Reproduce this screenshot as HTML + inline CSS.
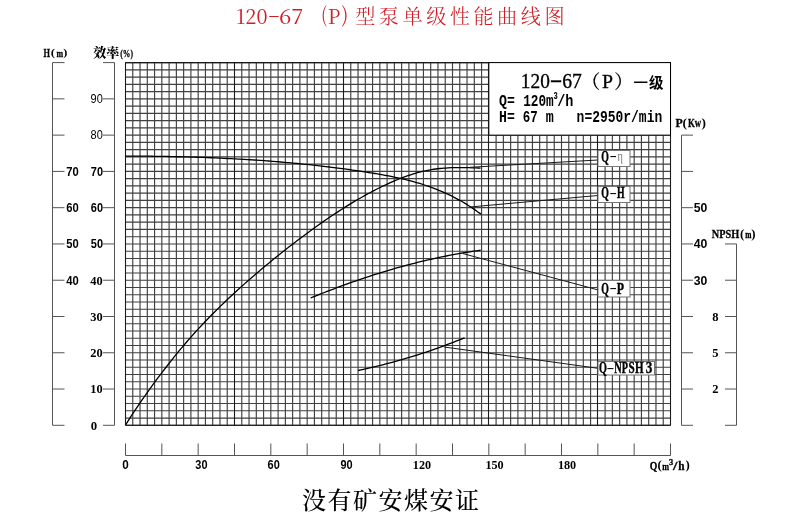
<!DOCTYPE html><html lang="zh-CN"><head><meta charset="utf-8"><title>120-67(P)型泵单级性能曲线图</title><style>
html,body{margin:0;padding:0;background:#fff;width:800px;height:523px;overflow:hidden}
svg{display:block}
</style></head><body>
<svg width="800" height="523" viewBox="0 0 800 523">
<rect width="800" height="523" fill="#fff"/>
<g fill="#d01c24">
<text y="23.8" font-size="20.5" style="font-family:'Noto Serif CJK SC',serif"><tspan x="236" textLength="31.5" lengthAdjust="spacingAndGlyphs">120</tspan><tspan x="267.8" y="22" textLength="12.5" lengthAdjust="spacingAndGlyphs">-</tspan><tspan x="279" y="23.8" textLength="24.5" lengthAdjust="spacingAndGlyphs">67</tspan></text>
<text y="22.2" font-size="21" style="font-family:'Noto Serif CJK SC',serif"><tspan x="321.2" textLength="5.6" lengthAdjust="spacingAndGlyphs">(</tspan><tspan x="327.8" y="23.8" textLength="12.6" lengthAdjust="spacingAndGlyphs">P</tspan><tspan x="341.4" y="22.2" textLength="6.8" lengthAdjust="spacingAndGlyphs">)</tspan></text>
<text x="355.2 378.85 402.5 426.15 449.8 473.45 497.1 520.75 544.4" y="23.5" font-size="20.2" style="font-family:'Liberation Serif','Noto Serif CJK SC',serif" font-weight="300">型泵单级性能曲线图</text>
</g>
<path d="M132.77,62.6V425.3M140.03,62.6V425.3M147.3,62.6V425.3M154.57,62.6V425.3M161.83,62.6V425.3M169.1,62.6V425.3M176.37,62.6V425.3M183.63,62.6V425.3M190.9,62.6V425.3M198.17,62.6V425.3M205.43,62.6V425.3M212.7,62.6V425.3M219.97,62.6V425.3M227.23,62.6V425.3M241.77,62.6V425.3M249.03,62.6V425.3M256.3,62.6V425.3M263.57,62.6V425.3M270.83,62.6V425.3M278.1,62.6V425.3M285.37,62.6V425.3M292.63,62.6V425.3M299.9,62.6V425.3M307.17,62.6V425.3M314.43,62.6V425.3M321.7,62.6V425.3M328.97,62.6V425.3M336.23,62.6V425.3M350.77,62.6V425.3M358.03,62.6V425.3M365.3,62.6V425.3M372.57,62.6V425.3M379.83,62.6V425.3M387.1,62.6V425.3M394.37,62.6V425.3M401.63,62.6V425.3M408.9,62.6V425.3M416.17,62.6V425.3M423.43,62.6V425.3M430.7,62.6V425.3M437.97,62.6V425.3M445.23,62.6V425.3M452.5,62.6V425.3M459.77,62.6V425.3M467.03,62.6V425.3M474.3,62.6V425.3M481.57,62.6V425.3M496.1,62.6V425.3M503.37,62.6V425.3M510.63,62.6V425.3M517.9,62.6V425.3M525.17,62.6V425.3M532.43,62.6V425.3M539.7,62.6V425.3M546.97,62.6V425.3M554.23,62.6V425.3M561.5,62.6V425.3M568.77,62.6V425.3M576.03,62.6V425.3M583.3,62.6V425.3M590.57,62.6V425.3M605.1,62.6V425.3M612.37,62.6V425.3M619.63,62.6V425.3M626.9,62.6V425.3M634.17,62.6V425.3M641.43,62.6V425.3M648.7,62.6V425.3M655.97,62.6V425.3M663.23,62.6V425.3M125.5,62.6H670.5M125.5,69.85H670.5M125.5,77.11H670.5M125.5,84.36H670.5M125.5,91.62H670.5M125.5,98.87H670.5M125.5,106.12H670.5M125.5,113.38H670.5M125.5,120.63H670.5M125.5,127.89H670.5M125.5,135.14H670.5M125.5,142.39H670.5M125.5,149.65H670.5M125.5,156.9H670.5M125.5,164.16H670.5M125.5,171.41H670.5M125.5,178.66H670.5M125.5,185.92H670.5M125.5,193.17H670.5M125.5,200.43H670.5M125.5,207.68H670.5M125.5,214.93H670.5M125.5,222.19H670.5M125.5,229.44H670.5M125.5,236.7H670.5M125.5,243.95H670.5M125.5,251.2H670.5M125.5,258.46H670.5M125.5,265.71H670.5M125.5,272.97H670.5M125.5,280.22H670.5M125.5,287.47H670.5M125.5,294.73H670.5M125.5,301.98H670.5M125.5,309.24H670.5M125.5,316.49H670.5M125.5,323.74H670.5M125.5,331H670.5M125.5,338.25H670.5M125.5,345.51H670.5M125.5,352.76H670.5M125.5,360.01H670.5M125.5,367.27H670.5M125.5,374.52H670.5M125.5,381.78H670.5M125.5,389.03H670.5M125.5,396.28H670.5M125.5,403.54H670.5M125.5,410.79H670.5M125.5,418.05H670.5M125.5,425.3H670.5" stroke="#404040" stroke-width="1.15" fill="none"/>
<path d="M125.5,62.3V425.6M234.5,62.3V425.6M343.5,62.3V425.6M488.5,62.3V425.6M597.5,62.3V425.6M670.5,62.3V425.6M125.5,62.6H670.5M125.5,425.3H670.5" stroke="#1a1a1a" stroke-width="1.1" fill="none"/>
<rect x="488.83" y="62.6" width="181.67" height="72.54" fill="#fff" stroke="#000" stroke-width="1"/>
<g fill="#000">
<text y="87.6" font-size="21" style="font-family:'Liberation Serif','Noto Serif CJK SC',serif" stroke="#000" stroke-width="0.35"><tspan x="520.8" textLength="29" lengthAdjust="spacingAndGlyphs">120</tspan><tspan x="549.8" y="85.6" textLength="12.6" lengthAdjust="spacingAndGlyphs">-</tspan><tspan x="562.2" y="87.6" textLength="19.6" lengthAdjust="spacingAndGlyphs">67</tspan></text>
<text x="581.2" y="89" font-size="19" style="font-family:'Liberation Serif','Noto Serif CJK SC',serif" stroke="#000" stroke-width="0.2">（</text>
<text x="602" y="87.8" font-size="19.8" style="font-family:'Liberation Serif','Noto Serif CJK SC',serif" stroke="#000" stroke-width="0.3">P</text>
<text x="614.3" y="89" font-size="19" style="font-family:'Liberation Serif','Noto Serif CJK SC',serif" stroke="#000" stroke-width="0.2">）</text>
<text x="633.5 649" y="88.3" font-size="14.5" style="font-family:'Liberation Sans','Noto Sans CJK SC',sans-serif"><tspan font-weight="500">一</tspan><tspan font-weight="bold">级</tspan></text>
<text x="499" y="105.7" font-size="15.8" style="font-family:'Liberation Mono','Noto Sans CJK SC',monospace" textLength="15.8" lengthAdjust="spacingAndGlyphs" font-weight="bold">Q=</text>
<text x="523.2" y="105.7" font-size="15.8" style="font-family:'Liberation Mono','Noto Sans CJK SC',monospace" textLength="30.5" lengthAdjust="spacingAndGlyphs" font-weight="bold">120m</text>
<text x="553.6" y="98.6" font-size="10" style="font-family:'Liberation Mono','Noto Sans CJK SC',monospace" textLength="4.3" lengthAdjust="spacingAndGlyphs" font-weight="bold">3</text>
<text x="557.2" y="105.7" font-size="15.8" style="font-family:'Liberation Mono','Noto Sans CJK SC',monospace" textLength="16.2" lengthAdjust="spacingAndGlyphs" font-weight="bold">/h</text>
<text x="499" y="121.5" font-size="15.8" style="font-family:'Liberation Mono','Noto Sans CJK SC',monospace" textLength="15.8" lengthAdjust="spacingAndGlyphs" font-weight="bold">H=</text>
<text x="522.8" y="121.5" font-size="15.8" style="font-family:'Liberation Mono','Noto Sans CJK SC',monospace" textLength="15" lengthAdjust="spacingAndGlyphs" font-weight="bold">67</text>
<text x="545.8" y="121.5" font-size="15.8" style="font-family:'Liberation Mono','Noto Sans CJK SC',monospace" textLength="8" lengthAdjust="spacingAndGlyphs" font-weight="bold">m</text>
<text x="576.6" y="121.5" font-size="15.8" style="font-family:'Liberation Mono','Noto Sans CJK SC',monospace" textLength="85.6" lengthAdjust="spacingAndGlyphs" font-weight="bold">n=2950r/min</text>
</g>
<path d="M125.5,156.03 C126.18,156.04 128.22,156.05 129.59,156.05 C130.95,156.06 132.31,156.07 133.67,156.08 C135.03,156.08 136.4,156.09 137.76,156.1 C139.12,156.11 140.48,156.13 141.84,156.14 C143.21,156.15 144.57,156.16 145.93,156.18 C147.29,156.19 148.66,156.21 150.02,156.22 C151.38,156.24 152.74,156.26 154.1,156.28 C155.47,156.3 156.83,156.32 158.19,156.34 C159.55,156.36 160.91,156.38 162.28,156.4 C163.64,156.42 165,156.45 166.36,156.47 C167.72,156.5 169.09,156.52 170.45,156.55 C171.81,156.58 173.17,156.61 174.53,156.64 C175.9,156.67 177.26,156.7 178.62,156.73 C179.98,156.76 181.34,156.8 182.71,156.83 C184.07,156.87 185.43,156.9 186.79,156.94 C188.16,156.98 189.52,157.02 190.88,157.06 C192.24,157.1 193.6,157.14 194.97,157.18 C196.33,157.23 197.69,157.27 199.05,157.32 C200.41,157.36 201.78,157.41 203.14,157.46 C204.5,157.51 205.86,157.56 207.22,157.61 C208.59,157.66 209.95,157.71 211.31,157.77 C212.67,157.82 214.03,157.88 215.4,157.93 C216.76,157.99 218.12,158.05 219.48,158.11 C220.84,158.17 222.21,158.23 223.57,158.3 C224.93,158.36 226.29,158.43 227.66,158.49 C229.02,158.56 230.38,158.63 231.74,158.7 C233.1,158.77 234.47,158.84 235.83,158.91 C237.19,158.99 238.55,159.06 239.91,159.14 C241.28,159.22 242.64,159.3 244,159.38 C245.36,159.46 246.72,159.54 248.09,159.62 C249.45,159.71 250.81,159.79 252.17,159.88 C253.53,159.97 254.9,160.06 256.26,160.15 C257.62,160.24 258.98,160.33 260.34,160.43 C261.71,160.52 263.07,160.62 264.43,160.72 C265.79,160.82 267.16,160.92 268.52,161.02 C269.88,161.12 271.24,161.23 272.6,161.33 C273.97,161.44 275.33,161.55 276.69,161.66 C278.05,161.77 279.41,161.88 280.78,162 C282.14,162.11 283.5,162.23 284.86,162.35 C286.22,162.46 287.59,162.58 288.95,162.71 C290.31,162.83 291.67,162.96 293.03,163.08 C294.4,163.21 295.76,163.34 297.12,163.47 C298.48,163.6 299.84,163.73 301.21,163.87 C302.57,164.01 303.93,164.14 305.29,164.28 C306.66,164.42 308.02,164.56 309.38,164.71 C310.74,164.85 312.1,165 313.47,165.15 C314.83,165.3 316.19,165.45 317.55,165.6 C318.91,165.76 320.28,165.91 321.64,166.07 C323,166.23 324.36,166.39 325.72,166.55 C327.09,166.72 328.45,166.88 329.81,167.05 C331.17,167.22 332.53,167.39 333.9,167.56 C335.26,167.73 336.62,167.91 337.98,168.08 C339.34,168.26 340.71,168.44 342.07,168.62 C343.43,168.81 344.79,168.99 346.16,169.18 C347.52,169.37 348.88,169.56 350.24,169.75 C351.6,169.94 352.97,170.14 354.33,170.33 C355.69,170.53 357.05,170.73 358.41,170.94 C359.78,171.14 361.14,171.34 362.5,171.55 C363.86,171.76 365.22,171.97 366.59,172.18 C367.95,172.4 369.31,172.61 370.67,172.83 C372.03,173.05 373.4,173.27 374.76,173.5 C376.12,173.73 377.48,173.95 378.84,174.19 C380.21,174.42 381.57,174.66 382.93,174.9 C384.29,175.15 385.66,175.4 387.02,175.65 C388.38,175.91 389.74,176.17 391.1,176.44 C392.47,176.71 393.83,176.99 395.19,177.27 C396.55,177.56 397.91,177.85 399.28,178.15 C400.64,178.46 402,178.77 403.36,179.09 C404.72,179.41 406.09,179.74 407.45,180.08 C408.81,180.42 410.17,180.77 411.53,181.14 C412.9,181.5 414.26,181.88 415.62,182.27 C416.98,182.66 418.34,183.06 419.71,183.47 C421.07,183.89 422.43,184.31 423.79,184.75 C425.16,185.2 426.52,185.65 427.88,186.12 C429.24,186.6 430.6,187.08 431.97,187.59 C433.33,188.09 434.69,188.61 436.05,189.14 C437.41,189.68 438.78,190.23 440.14,190.8 C441.5,191.37 442.86,191.96 444.22,192.57 C445.59,193.17 446.95,193.8 448.31,194.44 C449.67,195.09 451.03,195.75 452.4,196.44 C453.76,197.13 455.12,197.83 456.48,198.56 C457.84,199.29 459.21,200.03 460.57,200.8 C461.93,201.57 463.29,202.37 464.66,203.18 C466.02,204 467.38,204.84 468.74,205.7 C470.1,206.56 471.47,207.45 472.83,208.36 C474.19,209.28 475.55,210.21 476.91,211.17 C478.28,212.14 480.32,213.65 481,214.14" stroke="#000" stroke-width="1.3" fill="none" stroke-linecap="butt"/>
<path d="M125.6,424.88 C126.28,423.81 128.32,420.58 129.68,418.47 C131.04,416.36 132.4,414.28 133.76,412.22 C135.12,410.16 136.48,408.13 137.84,406.12 C139.2,404.11 140.56,402.12 141.92,400.15 C143.28,398.18 144.64,396.24 146,394.31 C147.36,392.38 148.72,390.48 150.08,388.59 C151.44,386.7 152.8,384.83 154.16,382.98 C155.52,381.12 156.88,379.29 158.24,377.47 C159.6,375.65 160.96,373.84 162.32,372.06 C163.68,370.27 165.04,368.5 166.4,366.75 C167.76,365 169.12,363.26 170.49,361.54 C171.85,359.83 173.21,358.13 174.57,356.44 C175.93,354.76 177.29,353.09 178.65,351.45 C180.01,349.8 181.37,348.17 182.73,346.55 C184.09,344.94 185.45,343.35 186.81,341.77 C188.17,340.19 189.53,338.63 190.89,337.09 C192.25,335.55 193.61,334.03 194.97,332.53 C196.33,331.02 197.69,329.54 199.05,328.07 C200.41,326.6 201.77,325.14 203.13,323.71 C204.49,322.27 205.85,320.85 207.21,319.44 C208.57,318.04 209.93,316.65 211.29,315.27 C212.65,313.89 214.01,312.53 215.37,311.18 C216.73,309.83 218.09,308.49 219.45,307.16 C220.81,305.84 222.17,304.52 223.53,303.22 C224.89,301.91 226.25,300.62 227.61,299.34 C228.97,298.05 230.33,296.78 231.69,295.51 C233.05,294.25 234.41,292.99 235.77,291.75 C237.13,290.5 238.49,289.27 239.85,288.04 C241.21,286.81 242.57,285.59 243.93,284.38 C245.29,283.17 246.65,281.96 248.01,280.77 C249.37,279.57 250.73,278.39 252.09,277.21 C253.45,276.03 254.81,274.86 256.17,273.7 C257.53,272.53 258.9,271.38 260.26,270.23 C261.62,269.08 262.98,267.94 264.34,266.81 C265.7,265.67 267.06,264.55 268.42,263.43 C269.78,262.31 271.14,261.19 272.5,260.09 C273.86,258.98 275.22,257.88 276.58,256.78 C277.94,255.69 279.3,254.6 280.66,253.52 C282.02,252.43 283.38,251.36 284.74,250.28 C286.1,249.21 287.46,248.15 288.82,247.09 C290.18,246.03 291.54,244.97 292.9,243.92 C294.26,242.87 295.62,241.83 296.98,240.8 C298.34,239.76 299.7,238.73 301.06,237.71 C302.42,236.68 303.78,235.67 305.14,234.66 C306.5,233.65 307.86,232.64 309.22,231.65 C310.58,230.65 311.94,229.66 313.3,228.68 C314.66,227.7 316.02,226.72 317.38,225.76 C318.74,224.79 320.1,223.83 321.46,222.88 C322.82,221.93 324.18,220.98 325.54,220.05 C326.9,219.11 328.26,218.19 329.62,217.27 C330.98,216.35 332.34,215.44 333.7,214.53 C335.06,213.63 336.42,212.74 337.78,211.85 C339.14,210.97 340.5,210.09 341.86,209.23 C343.22,208.36 344.58,207.5 345.94,206.66 C347.3,205.81 348.67,204.97 350.03,204.14 C351.39,203.31 352.75,202.49 354.11,201.68 C355.47,200.88 356.83,200.08 358.19,199.29 C359.55,198.5 360.91,197.72 362.27,196.95 C363.63,196.18 364.99,195.43 366.35,194.68 C367.71,193.93 369.07,193.19 370.43,192.47 C371.79,191.74 373.15,191.03 374.51,190.33 C375.87,189.62 377.23,188.93 378.59,188.25 C379.95,187.57 381.31,186.9 382.67,186.24 C384.03,185.59 385.39,184.94 386.75,184.31 C388.11,183.68 389.47,183.06 390.83,182.45 C392.19,181.84 393.55,181.25 394.91,180.67 C396.27,180.1 397.63,179.53 398.99,178.99 C400.35,178.44 401.71,177.91 403.07,177.4 C404.43,176.89 405.79,176.39 407.15,175.92 C408.51,175.44 409.87,174.98 411.23,174.54 C412.59,174.11 413.95,173.69 415.31,173.29 C416.67,172.89 418.03,172.52 419.39,172.16 C420.75,171.81 422.11,171.47 423.47,171.16 C424.83,170.86 426.19,170.57 427.55,170.31 C428.91,170.04 430.27,169.81 431.63,169.59 C432.99,169.37 434.35,169.17 435.71,168.99 C437.08,168.81 438.44,168.66 439.8,168.51 C441.16,168.37 442.52,168.25 443.88,168.15 C445.24,168.04 446.6,167.95 447.96,167.87 C449.32,167.8 450.68,167.74 452.04,167.69 C453.4,167.65 454.76,167.61 456.12,167.59 C457.48,167.57 458.84,167.56 460.2,167.56 C461.56,167.56 462.92,167.57 464.28,167.59 C465.64,167.61 467,167.64 468.36,167.67 C469.72,167.71 471.08,167.75 472.44,167.8 C473.8,167.84 475.16,167.9 476.52,167.95 C477.88,168.01 479.92,168.1 480.6,168.13" stroke="#000" stroke-width="1.3" fill="none" stroke-linecap="butt"/>
<path d="M310.6,298 C311.29,297.72 313.36,296.87 314.75,296.32 C316.13,295.76 317.51,295.21 318.89,294.66 C320.27,294.11 321.66,293.56 323.04,293.02 C324.42,292.48 325.8,291.94 327.19,291.41 C328.57,290.88 329.95,290.35 331.33,289.82 C332.71,289.3 334.1,288.77 335.48,288.25 C336.86,287.74 338.24,287.22 339.62,286.71 C341.01,286.2 342.39,285.69 343.77,285.19 C345.15,284.69 346.53,284.19 347.92,283.7 C349.3,283.2 350.68,282.71 352.06,282.22 C353.45,281.74 354.83,281.26 356.21,280.78 C357.59,280.3 358.97,279.83 360.36,279.36 C361.74,278.89 363.12,278.42 364.5,277.96 C365.88,277.5 367.27,277.04 368.65,276.59 C370.03,276.13 371.41,275.69 372.8,275.24 C374.18,274.8 375.56,274.36 376.94,273.92 C378.32,273.49 379.71,273.06 381.09,272.63 C382.47,272.2 383.85,271.78 385.23,271.36 C386.62,270.94 388,270.53 389.38,270.12 C390.76,269.71 392.14,269.31 393.53,268.91 C394.91,268.51 396.29,268.11 397.67,267.72 C399.06,267.33 400.44,266.95 401.82,266.57 C403.2,266.19 404.58,265.81 405.97,265.44 C407.35,265.07 408.73,264.7 410.11,264.34 C411.49,263.97 412.88,263.62 414.26,263.26 C415.64,262.91 417.02,262.56 418.4,262.22 C419.79,261.88 421.17,261.54 422.55,261.21 C423.93,260.87 425.32,260.55 426.7,260.22 C428.08,259.9 429.46,259.58 430.84,259.27 C432.23,258.96 433.61,258.65 434.99,258.34 C436.37,258.04 437.75,257.74 439.14,257.45 C440.52,257.16 441.9,256.87 443.28,256.59 C444.67,256.31 446.05,256.03 447.43,255.76 C448.81,255.48 450.19,255.22 451.58,254.96 C452.96,254.69 454.34,254.44 455.72,254.19 C457.1,253.94 458.49,253.69 459.87,253.45 C461.25,253.21 462.63,252.97 464.01,252.74 C465.4,252.51 466.78,252.29 468.16,252.07 C469.54,251.85 470.93,251.64 472.31,251.43 C473.69,251.23 475.07,251.02 476.45,250.83 C477.84,250.63 479.91,250.35 480.6,250.25" stroke="#000" stroke-width="1.3" fill="none" stroke-linecap="butt"/>
<path d="M358.1,370.51 C358.81,370.36 360.94,369.91 362.36,369.61 C363.78,369.3 365.2,368.98 366.62,368.66 C368.04,368.34 369.46,368.02 370.88,367.69 C372.3,367.36 373.72,367.02 375.14,366.68 C376.56,366.34 377.98,365.99 379.4,365.64 C380.82,365.29 382.24,364.93 383.66,364.57 C385.08,364.2 386.5,363.84 387.92,363.46 C389.34,363.09 390.76,362.71 392.18,362.32 C393.6,361.94 395.02,361.55 396.44,361.15 C397.86,360.75 399.28,360.35 400.7,359.94 C402.12,359.54 403.54,359.12 404.96,358.71 C406.38,358.29 407.8,357.86 409.22,357.43 C410.64,357 412.06,356.57 413.48,356.13 C414.9,355.69 416.32,355.24 417.74,354.79 C419.16,354.34 420.58,353.88 422,353.42 C423.42,352.95 424.84,352.49 426.26,352.01 C427.68,351.54 429.1,351.06 430.52,350.57 C431.94,350.09 433.36,349.6 434.78,349.1 C436.2,348.6 437.62,348.1 439.04,347.59 C440.46,347.08 441.88,346.57 443.3,346.05 C444.72,345.53 446.14,345.01 447.56,344.48 C448.98,343.94 450.4,343.41 451.82,342.87 C453.24,342.32 454.66,341.78 456.08,341.22 C457.5,340.67 458.92,340.11 460.34,339.55 C461.76,338.98 463.89,338.12 464.6,337.83" stroke="#000" stroke-width="1.3" fill="none" stroke-linecap="butt"/>
<line x1="470" y1="167.3" x2="597.8" y2="160" stroke="#1a1a1a" stroke-width="1"/>
<line x1="470" y1="207" x2="597.8" y2="195.5" stroke="#1a1a1a" stroke-width="1"/>
<line x1="463" y1="253.6" x2="597.9" y2="289.9" stroke="#1a1a1a" stroke-width="1"/>
<line x1="444.2" y1="347" x2="597.9" y2="368.3" stroke="#1a1a1a" stroke-width="1"/>
<rect x="598" y="150.5" width="32" height="16" fill="#fff" stroke="#777" stroke-width="1"/>
<text transform="translate(601.3 161.6) scale(0.8 1.25)" font-size="13" style="font-family:'Liberation Serif','Noto Serif CJK SC',serif" font-weight="bold" stroke="#000" stroke-width="0.35" textLength="9.5" lengthAdjust="spacingAndGlyphs">Q</text>
<text transform="translate(609.6 160) scale(0.8 1)" font-size="13" style="font-family:'Liberation Serif','Noto Serif CJK SC',serif" font-weight="bold" textLength="9.25" lengthAdjust="spacingAndGlyphs">-</text>
<text transform="translate(617.4 161.4) scale(0.8 1.3)" font-size="12" style="font-family:'Liberation Serif','Noto Serif CJK SC',serif" fill="#777" textLength="6.75" lengthAdjust="spacingAndGlyphs">η</text>
<rect x="598" y="186.5" width="32" height="16" fill="#fff" stroke="#777" stroke-width="1"/>
<text transform="translate(601.3 198.3) scale(0.8 1.25)" font-size="13" style="font-family:'Liberation Serif','Noto Serif CJK SC',serif" font-weight="bold" stroke="#000" stroke-width="0.35" textLength="9.5" lengthAdjust="spacingAndGlyphs">Q</text>
<text transform="translate(609.6 196.7) scale(0.8 1)" font-size="13" style="font-family:'Liberation Serif','Noto Serif CJK SC',serif" font-weight="bold" textLength="9.25" lengthAdjust="spacingAndGlyphs">-</text>
<text transform="translate(617 198.3) scale(0.8 1.25)" font-size="13" style="font-family:'Liberation Serif','Noto Serif CJK SC',serif" font-weight="bold" stroke="#000" stroke-width="0.35" textLength="9.5" lengthAdjust="spacingAndGlyphs">H</text>
<rect x="598" y="280.5" width="32" height="16.5" fill="#fff" stroke="#777" stroke-width="1"/>
<text transform="translate(601.3 293.5) scale(0.8 1.25)" font-size="13" style="font-family:'Liberation Serif','Noto Serif CJK SC',serif" font-weight="bold" stroke="#000" stroke-width="0.35" textLength="9.5" lengthAdjust="spacingAndGlyphs">Q</text>
<text transform="translate(609.6 291.9) scale(0.8 1)" font-size="13" style="font-family:'Liberation Serif','Noto Serif CJK SC',serif" font-weight="bold" textLength="9.25" lengthAdjust="spacingAndGlyphs">-</text>
<text transform="translate(616.8 293.5) scale(0.8 1.25)" font-size="13" style="font-family:'Liberation Serif','Noto Serif CJK SC',serif" font-weight="bold" stroke="#000" stroke-width="0.35" textLength="9" lengthAdjust="spacingAndGlyphs">P</text>
<rect x="598" y="361.5" width="56.5" height="13.5" fill="#fff" stroke="#777" stroke-width="1"/>
<text transform="translate(599 373.2) scale(0.78 1.22)" font-size="13" style="font-family:'Liberation Serif','Noto Serif CJK SC',serif" font-weight="bold" stroke="#000" stroke-width="0.35">Q</text>
<text transform="translate(606.4 371.6) scale(0.78 1)" font-size="13" style="font-family:'Liberation Serif','Noto Serif CJK SC',serif" font-weight="bold" textLength="10" lengthAdjust="spacingAndGlyphs">-</text>
<text transform="translate(614.2 373.2) scale(0.78 1.22)" font-size="13" style="font-family:'Liberation Serif','Noto Serif CJK SC',serif" font-weight="bold" stroke="#000" stroke-width="0.35" textLength="9.49" lengthAdjust="spacingAndGlyphs">N</text>
<text transform="translate(621.8 373.2) scale(0.78 1.22)" font-size="13" style="font-family:'Liberation Serif','Noto Serif CJK SC',serif" font-weight="bold" stroke="#000" stroke-width="0.35" textLength="7.95" lengthAdjust="spacingAndGlyphs">P</text>
<text transform="translate(628.4 373.2) scale(0.78 1.22)" font-size="13" style="font-family:'Liberation Serif','Noto Serif CJK SC',serif" font-weight="bold" stroke="#000" stroke-width="0.35" textLength="7.95" lengthAdjust="spacingAndGlyphs">S</text>
<text transform="translate(635 373.2) scale(0.78 1.22)" font-size="13" style="font-family:'Liberation Serif','Noto Serif CJK SC',serif" font-weight="bold" stroke="#000" stroke-width="0.35" textLength="11.03" lengthAdjust="spacingAndGlyphs">H</text>
<text transform="translate(645.8 373.2) scale(0.78 1.22)" font-size="13" style="font-family:'Liberation Serif','Noto Serif CJK SC',serif" font-weight="bold" stroke="#000" stroke-width="0.35" textLength="8.46" lengthAdjust="spacingAndGlyphs">3</text>
<path d="M52.5,62.6V425.3M114.5,62.6V425.3M52.5,425.3H64.5M103,425.3H114.5M52.5,389.03H64.5M103,389.03H114.5M52.5,352.76H64.5M103,352.76H114.5M52.5,316.49H64.5M103,316.49H114.5M52.5,280.22H64.5M103,280.22H114.5M52.5,243.95H64.5M103,243.95H114.5M52.5,207.68H64.5M103,207.68H114.5M52.5,171.41H64.5M103,171.41H114.5M52.5,135.14H64.5M103,135.14H114.5M52.5,98.87H64.5M103,98.87H114.5M52.5,62.6H64.5M103,62.6H114.5M681.5,135.14V425.3M736.5,243.95V425.3M681.5,425.3H693M681.5,389.03H693M681.5,352.76H693M681.5,316.49H693M681.5,280.22H693M681.5,243.95H693M681.5,207.68H693M681.5,171.41H693M681.5,135.14H693M725,425.3H736.5M725,389.03H736.5M725,352.76H736.5M725,316.49H736.5M725,280.22H736.5M725,243.95H736.5M125.5,455.5H670.5M125.5,443.5V455.5M161.83,443.5V455.5M198.17,443.5V455.5M234.5,443.5V455.5M270.83,443.5V455.5M307.17,443.5V455.5M343.5,443.5V455.5M379.83,443.5V455.5M416.17,443.5V455.5M452.5,443.5V455.5M488.83,443.5V455.5M525.17,443.5V455.5M561.5,443.5V455.5M597.83,443.5V455.5M634.17,443.5V455.5M670.5,443.5V455.5" stroke="#555" stroke-width="1" fill="none"/>
<text x="66.3" y="175.71" font-size="12.3" style="font-family:'Liberation Sans','Noto Sans CJK SC',sans-serif" textLength="12.5" lengthAdjust="spacingAndGlyphs" font-weight="bold">70</text>
<text x="66.3" y="211.98" font-size="12.3" style="font-family:'Liberation Sans','Noto Sans CJK SC',sans-serif" textLength="12.5" lengthAdjust="spacingAndGlyphs" font-weight="bold">60</text>
<text x="66.3" y="248.25" font-size="12.3" style="font-family:'Liberation Sans','Noto Sans CJK SC',sans-serif" textLength="12.5" lengthAdjust="spacingAndGlyphs" font-weight="bold">50</text>
<text x="66.3" y="284.52" font-size="12.3" style="font-family:'Liberation Sans','Noto Sans CJK SC',sans-serif" textLength="12.5" lengthAdjust="spacingAndGlyphs" font-weight="bold">40</text>
<text x="90.6" y="103.17" font-size="12.3" style="font-family:'Liberation Sans','Noto Sans CJK SC',sans-serif" textLength="12.2" lengthAdjust="spacingAndGlyphs" >90</text>
<text x="90.6" y="139.44" font-size="12.3" style="font-family:'Liberation Sans','Noto Sans CJK SC',sans-serif" textLength="12.2" lengthAdjust="spacingAndGlyphs" >80</text>
<text x="90.8" y="175.71" font-size="12.3" style="font-family:'Liberation Sans','Noto Sans CJK SC',sans-serif" textLength="12.2" lengthAdjust="spacingAndGlyphs" font-weight="bold">70</text>
<text x="90.8" y="211.98" font-size="12.3" style="font-family:'Liberation Sans','Noto Sans CJK SC',sans-serif" textLength="12.2" lengthAdjust="spacingAndGlyphs" font-weight="bold">60</text>
<text x="90.8" y="248.25" font-size="12.3" style="font-family:'Liberation Sans','Noto Sans CJK SC',sans-serif" textLength="12.2" lengthAdjust="spacingAndGlyphs" font-weight="bold">50</text>
<text x="90.2" y="284.52" font-size="12.8" style="font-family:'Liberation Serif','Noto Serif CJK SC',serif" textLength="12.4" lengthAdjust="spacingAndGlyphs" font-weight="bold">40</text>
<text x="90.2" y="320.79" font-size="12.8" style="font-family:'Liberation Serif','Noto Serif CJK SC',serif" textLength="12.4" lengthAdjust="spacingAndGlyphs" font-weight="bold">30</text>
<text x="90.2" y="357.06" font-size="12.8" style="font-family:'Liberation Serif','Noto Serif CJK SC',serif" textLength="12.4" lengthAdjust="spacingAndGlyphs" font-weight="bold">20</text>
<text x="90.2" y="393.33" font-size="12.8" style="font-family:'Liberation Serif','Noto Serif CJK SC',serif" textLength="12.4" lengthAdjust="spacingAndGlyphs" font-weight="bold">10</text>
<text x="90.8" y="429.6" font-size="12.8" style="font-family:'Liberation Serif','Noto Serif CJK SC',serif" font-weight="bold">0</text>
<text x="43.5" y="57.2" font-size="13" style="font-family:'Liberation Serif','Noto Serif CJK SC',serif" textLength="6.5" lengthAdjust="spacingAndGlyphs" font-weight="bold" stroke="#000" stroke-width="0.3">H</text>
<text x="50.8" y="56.2" font-size="11" style="font-family:'Liberation Serif','Noto Serif CJK SC',serif" textLength="4.3" lengthAdjust="spacingAndGlyphs" font-weight="bold">(</text>
<text x="56.5" y="57" font-size="10.5" style="font-family:'Liberation Serif','Noto Serif CJK SC',serif" textLength="6.6" lengthAdjust="spacingAndGlyphs" font-weight="bold" stroke="#000" stroke-width="0.3">m</text>
<text x="63.3" y="56.2" font-size="11" style="font-family:'Liberation Serif','Noto Serif CJK SC',serif" textLength="4.1" lengthAdjust="spacingAndGlyphs" font-weight="bold">)</text>
<text x="93.3" y="57.4" font-size="13" style="font-family:'Liberation Serif','Noto Serif CJK SC',serif" font-weight="900">效率</text>
<text x="120.3" y="57.2" font-size="10.5" style="font-family:'Liberation Serif','Noto Serif CJK SC',serif" textLength="12.6" lengthAdjust="spacingAndGlyphs" font-weight="bold" stroke="#000" stroke-width="0.3">(%)</text>
<text x="675.4" y="127.2" font-size="13" style="font-family:'Liberation Serif','Noto Serif CJK SC',serif" textLength="7.2" lengthAdjust="spacingAndGlyphs" font-weight="bold" stroke="#000" stroke-width="0.3">P</text>
<text x="682.6" y="126.6" font-size="11.5" style="font-family:'Liberation Serif','Noto Serif CJK SC',serif" textLength="4.5" lengthAdjust="spacingAndGlyphs" font-weight="bold">(</text>
<text x="688" y="127.2" font-size="12.5" style="font-family:'Liberation Serif','Noto Serif CJK SC',serif" textLength="13.2" lengthAdjust="spacingAndGlyphs" font-weight="bold" stroke="#000" stroke-width="0.3">Kw</text>
<text x="701.6" y="126.6" font-size="11.5" style="font-family:'Liberation Serif','Noto Serif CJK SC',serif" textLength="4.5" lengthAdjust="spacingAndGlyphs" font-weight="bold">)</text>
<text x="711.8" y="238.4" font-size="13.5" style="font-family:'Liberation Serif','Noto Serif CJK SC',serif" textLength="27.5" lengthAdjust="spacingAndGlyphs" font-weight="bold" stroke="#000" stroke-width="0.3">NPSH</text>
<text x="740" y="237.8" font-size="11.5" style="font-family:'Liberation Serif','Noto Serif CJK SC',serif" textLength="4.3" lengthAdjust="spacingAndGlyphs" font-weight="bold">(</text>
<text x="745.2" y="238.2" font-size="10" style="font-family:'Liberation Serif','Noto Serif CJK SC',serif" textLength="6.2" lengthAdjust="spacingAndGlyphs" font-weight="bold" stroke="#000" stroke-width="0.3">m</text>
<text x="751.3" y="237.8" font-size="11.5" style="font-family:'Liberation Serif','Noto Serif CJK SC',serif" textLength="4.3" lengthAdjust="spacingAndGlyphs" font-weight="bold">)</text>
<text x="693.8" y="211.98" font-size="12.2" style="font-family:'Liberation Sans','Noto Sans CJK SC',sans-serif" textLength="13.6" lengthAdjust="spacingAndGlyphs" font-weight="bold">50</text>
<text x="693.8" y="248.25" font-size="12.2" style="font-family:'Liberation Sans','Noto Sans CJK SC',sans-serif" textLength="13.6" lengthAdjust="spacingAndGlyphs" font-weight="bold">40</text>
<text x="693.8" y="284.52" font-size="12.2" style="font-family:'Liberation Sans','Noto Sans CJK SC',sans-serif" textLength="13.6" lengthAdjust="spacingAndGlyphs" font-weight="bold">30</text>
<text x="712.2" y="320.79" font-size="12.5" style="font-family:'Liberation Serif','Noto Serif CJK SC',serif" font-weight="bold">8</text>
<text x="712.2" y="357.06" font-size="12.5" style="font-family:'Liberation Serif','Noto Serif CJK SC',serif" font-weight="bold">5</text>
<text x="712.2" y="393.33" font-size="12.5" style="font-family:'Liberation Serif','Noto Serif CJK SC',serif" font-weight="bold">2</text>
<text x="122.2" y="469.4" font-size="12.3" style="font-family:'Liberation Sans','Noto Sans CJK SC',sans-serif" textLength="6.5" lengthAdjust="spacingAndGlyphs" font-weight="bold">0</text>
<text x="195.3" y="469.4" font-size="12.3" style="font-family:'Liberation Sans','Noto Sans CJK SC',sans-serif" textLength="12.2" lengthAdjust="spacingAndGlyphs" font-weight="bold">30</text>
<text x="267.6" y="469.4" font-size="12.3" style="font-family:'Liberation Sans','Noto Sans CJK SC',sans-serif" textLength="12.2" lengthAdjust="spacingAndGlyphs" font-weight="bold">60</text>
<text x="340.5" y="469.4" font-size="12.3" style="font-family:'Liberation Sans','Noto Sans CJK SC',sans-serif" textLength="12.2" lengthAdjust="spacingAndGlyphs" font-weight="bold">90</text>
<text x="412.8" y="469.4" font-size="12.8" style="font-family:'Liberation Serif','Noto Serif CJK SC',serif" textLength="18.3" lengthAdjust="spacingAndGlyphs" font-weight="bold">120</text>
<text x="485.4" y="469.4" font-size="12.8" style="font-family:'Liberation Serif','Noto Serif CJK SC',serif" textLength="18.3" lengthAdjust="spacingAndGlyphs" font-weight="bold">150</text>
<text x="557.9" y="469.4" font-size="12.8" style="font-family:'Liberation Serif','Noto Serif CJK SC',serif" textLength="18.3" lengthAdjust="spacingAndGlyphs" font-weight="bold">180</text>
<text x="649.8" y="469.6" font-size="12.5" style="font-family:'Liberation Serif','Noto Serif CJK SC',serif" textLength="7.6" lengthAdjust="spacingAndGlyphs" font-weight="bold" stroke="#000" stroke-width="0.3">Q</text>
<text x="657.4" y="469.4" font-size="11.5" style="font-family:'Liberation Serif','Noto Serif CJK SC',serif" textLength="4.3" lengthAdjust="spacingAndGlyphs" font-weight="bold">(</text>
<text x="662.3" y="469.6" font-size="10.5" style="font-family:'Liberation Serif','Noto Serif CJK SC',serif" textLength="6.8" lengthAdjust="spacingAndGlyphs" font-weight="bold" stroke="#000" stroke-width="0.3">m</text>
<text x="669" y="465" font-size="9" style="font-family:'Liberation Serif','Noto Serif CJK SC',serif" textLength="4.2" lengthAdjust="spacingAndGlyphs" font-weight="bold" stroke="#000" stroke-width="0.3">3</text>
<text x="673" y="470.2" font-size="12" style="font-family:'Liberation Serif','Noto Serif CJK SC',serif" textLength="4.4" lengthAdjust="spacingAndGlyphs" font-weight="bold" stroke="#000" stroke-width="0.3">/</text>
<text x="678.3" y="469.6" font-size="12" style="font-family:'Liberation Serif','Noto Serif CJK SC',serif" textLength="6.3" lengthAdjust="spacingAndGlyphs" font-weight="bold" stroke="#000" stroke-width="0.3">h</text>
<text x="685.5" y="469.4" font-size="11.5" style="font-family:'Liberation Serif','Noto Serif CJK SC',serif" textLength="4.3" lengthAdjust="spacingAndGlyphs" font-weight="bold">)</text>
<text x="302 327.5 353 378.5 404 429.5 455" y="509" font-size="24" style="font-family:'Liberation Serif','Noto Serif CJK SC',serif" fill="#000" font-weight="500">没有矿安煤安证</text>
</svg></body></html>
